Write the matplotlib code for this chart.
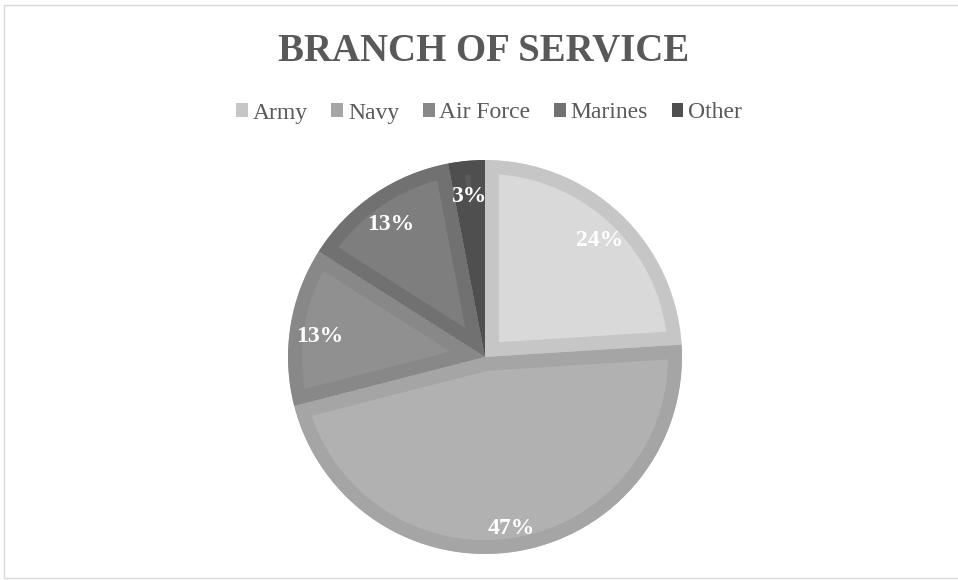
import matplotlib
matplotlib.use("Agg")
import matplotlib.pyplot as plt
from matplotlib.patches import Rectangle, Patch

categories = ["Army", "Navy", "Air Force", "Marines", "Other"]
values = [24, 47, 13, 13, 3]
title = "BRANCH OF SERVICE"

face_colors = ["#d9d9d9", "#b1b1b1", "#909090", "#7e7e7e", "#5a5a5a"]
edge_colors = ["#c6c6c6", "#a5a5a5", "#888888", "#717171", "#4f4f4f"]

plt.rcParams['font.family'] = ['Liberation Serif', 'DejaVu Serif']

fig = plt.figure(figsize=(9.58, 5.8), dpi=100)
fig.patch.set_facecolor("white")

# chart frame
fig.add_artist(Rectangle((4/958, 2/580), 960/958, 573/580, transform=fig.transFigure,
                         fill=False, edgecolor="#d9d9d9", linewidth=1))

ax = fig.add_axes([(485-200)/958, (580-357-200)/580, 400/958, 400/580])
wedges, texts, autotexts = ax.pie(
    values, colors=face_colors, startangle=90, counterclock=False,
    autopct=lambda p: f"{p:.0f}%", pctdistance=0.85, radius=1,
    textprops=dict(color="white", fontsize=17, fontweight="bold"))
for w, ec in zip(wedges, edge_colors):
    w.set_edgecolor(ec)
    w.set_linewidth(20)
    w.set_clip_on(True)
    w.set_clip_path(w)
for t in autotexts:
    x, y = t.get_position()
    t.set_position((x, y - 0.03))
ax.set_xlim(-200/197, 200/197)
ax.set_ylim(-200/197, 200/197)
ax.set_aspect("equal")

fig.text(484/958, 1 - 51/580, title, ha="center", va="center", fontsize=28,
         fontweight="bold", color="#595959")

handles = [Patch(facecolor=c, edgecolor="none") for c in edge_colors]
fig.legend(handles, categories, loc="center", bbox_to_anchor=(489/958, 1 - 113/580),
           ncol=5, frameon=False, fontsize=17, handlelength=0.5, handleheight=0.5,
           handletextpad=0.2, columnspacing=1.0, labelcolor="#595959")

fig.savefig("out.png", dpi=100)
